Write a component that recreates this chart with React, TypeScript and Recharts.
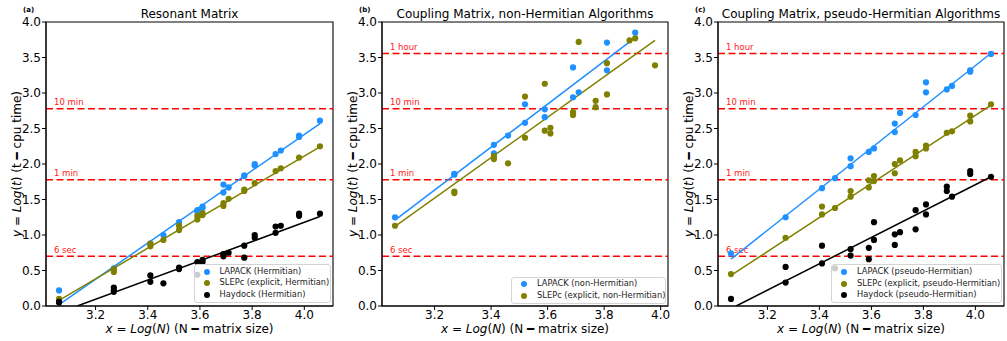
import { ComposedChart, Scatter, Line, XAxis, YAxis, ReferenceLine, ReferenceArea } from "recharts"

type Pt = [number, number]

const FONT = "DejaVu Sans, sans-serif"
const BLUE = "#1e90ff"
const OLIVE = "#808000"
const BLACK = "#000000"

const xTicks = [3.2, 3.4, 3.6, 3.8, 4.0]
const yTicks = [0, 0.5, 1, 1.5, 2, 2.5, 3, 3.5, 4]

const marksShort = [
  { label: "6 sec", y: 0.699 },
  { label: "1 min", y: 1.778 },
  { label: "10 min", y: 2.778 },
]
const marksLong = [...marksShort, { label: "1 hour", y: 3.556 }]

// (a) resonant matrix
const aLapack: Pt[] = [
  [3.06, 0.22], [3.27, 0.53], [3.41, 0.88], [3.46, 1.0], [3.52, 1.18], [3.59, 1.33], [3.59, 1.35],
  [3.61, 1.38], [3.61, 1.4], [3.69, 1.71], [3.69, 1.6], [3.71, 1.67], [3.77, 1.83], [3.77, 1.84],
  [3.81, 2.0], [3.81, 1.98], [3.89, 2.14], [3.91, 2.19], [3.98, 2.4], [3.98, 2.38], [4.06, 2.61],
]
const aSlepc: Pt[] = [
  [3.06, 0.1], [3.27, 0.52], [3.27, 0.48], [3.41, 0.88], [3.41, 0.84], [3.46, 0.93], [3.52, 1.13],
  [3.52, 1.07], [3.59, 1.27], [3.59, 1.22], [3.61, 1.31], [3.61, 1.28], [3.69, 1.45], [3.69, 1.41],
  [3.71, 1.51], [3.77, 1.64], [3.77, 1.62], [3.81, 1.73], [3.89, 1.9], [3.91, 1.94], [3.98, 2.09],
  [4.06, 2.25],
]
const aHaydock: Pt[] = [
  [3.06, 0.06], [3.06, 0.05], [3.27, 0.26], [3.27, 0.22], [3.27, 0.2], [3.41, 0.43], [3.41, 0.34],
  [3.46, 0.32], [3.52, 0.54], [3.52, 0.52], [3.59, 0.62], [3.59, 0.44], [3.61, 0.65], [3.61, 0.62],
  [3.69, 0.73], [3.69, 0.7], [3.71, 0.75], [3.77, 0.85], [3.77, 0.68], [3.81, 1.0], [3.81, 0.96],
  [3.89, 1.12], [3.89, 1.03], [3.91, 1.13], [3.98, 1.3], [3.98, 1.27], [4.06, 1.3],
]
const aLapackFit: Pt[] = [[3.06, 0.02], [4.06, 2.57]]
const aSlepcFit: Pt[] = [[3.06, 0.08], [4.06, 2.24]]
const aHaydockFit: Pt[] = [[3.13, 0], [4.06, 1.26]]

// (b) coupling matrix, non-Hermitian
const bLapack: Pt[] = [
  [3.06, 1.25], [3.27, 1.86], [3.27, 1.85], [3.41, 2.27], [3.41, 2.15], [3.46, 2.4], [3.52, 2.84],
  [3.52, 2.58], [3.59, 2.77], [3.59, 2.66], [3.69, 3.36], [3.69, 2.94], [3.71, 3.01], [3.81, 3.71],
  [3.81, 3.32], [3.91, 3.85],
]
const bSlepc: Pt[] = [
  [3.06, 1.13], [3.27, 1.61], [3.27, 1.59], [3.41, 2.11], [3.41, 2.07], [3.46, 2.01], [3.52, 2.95],
  [3.52, 2.37], [3.59, 3.13], [3.59, 2.47], [3.61, 2.51], [3.61, 2.43], [3.69, 2.73], [3.69, 2.69],
  [3.71, 3.72], [3.77, 2.89], [3.77, 2.8], [3.81, 3.42], [3.81, 2.98], [3.89, 3.74], [3.91, 3.77],
  [3.98, 3.39],
]
const bLapackFit: Pt[] = [[3.06, 1.21], [3.91, 3.78]]
const bSlepcFit: Pt[] = [[3.06, 1.12], [3.98, 3.74]]

// (c) coupling matrix, pseudo-Hermitian
const cLapack: Pt[] = [
  [3.06, 0.74], [3.27, 1.25], [3.41, 1.66], [3.46, 1.8], [3.52, 2.08], [3.52, 1.97], [3.59, 2.17],
  [3.61, 2.22], [3.69, 2.57], [3.69, 2.45], [3.71, 2.72], [3.77, 2.69], [3.81, 3.15], [3.81, 3.01],
  [3.89, 3.05], [3.91, 3.1], [3.98, 3.32], [3.98, 3.3], [4.06, 3.55],
]
const cSlepc: Pt[] = [
  [3.06, 0.45], [3.27, 0.96], [3.41, 1.4], [3.41, 1.29], [3.46, 1.38], [3.52, 1.62], [3.52, 1.54],
  [3.59, 1.77], [3.59, 1.67], [3.61, 1.83], [3.61, 1.76], [3.69, 2.0], [3.69, 1.87], [3.71, 2.05],
  [3.77, 2.17], [3.77, 2.11], [3.81, 2.26], [3.81, 2.22], [3.89, 2.44], [3.91, 2.46], [3.98, 2.68],
  [3.98, 2.6], [4.06, 2.84],
]
const cHaydock: Pt[] = [
  [3.06, 0.1], [3.27, 0.55], [3.27, 0.33], [3.41, 0.85], [3.41, 0.6], [3.46, 0.53], [3.52, 0.8],
  [3.52, 0.71], [3.59, 0.82], [3.59, 0.66], [3.61, 1.18], [3.61, 0.93], [3.69, 1.01], [3.69, 0.86],
  [3.71, 1.04], [3.77, 1.35], [3.77, 1.08], [3.81, 1.43], [3.81, 1.29], [3.89, 1.68], [3.89, 1.62],
  [3.91, 1.54], [3.98, 1.9], [3.98, 1.86], [4.06, 1.82],
]
const cLapackFit: Pt[] = [[3.06, 0.66], [4.06, 3.56]]
const cSlepcFit: Pt[] = [[3.06, 0.43], [4.06, 2.83]]
const cHaydockFit: Pt[] = [[3.08, 0], [4.06, 1.82]]

type Series = { name: string; color: string; pts: Pt[]; fit: Pt[] }

const toRows = (p: Pt[]) => p.map(([x, y]) => ({ x, y }))

function LineTag(props: any) {
  const vb = props.viewBox
  if (!vb) return null
  return (
    <text x={vb.x + 8} y={vb.y - 3.5} fill="#ff2020" fontSize={8.5} fontFamily={FONT}>
      {props.text}
    </text>
  )
}

type PanelProps = {
  left: number
  width: number
  plotLeft: number
  plotRight: number
  xDomain: [number, number]
  title: string
  tag: string
  series: Series[]
  marks: { label: string; y: number }[]
  legend: { left: number; top: number; width: number }
}

function Panel(p: PanelProps) {
  const cx = (p.plotLeft + p.plotRight) / 2
  const ly = 164
  const lx = p.plotLeft - 29
  return (
    <div style={{ position: "absolute", left: p.left, top: 0, width: p.width, height: 341 }}>
      <ComposedChart
        width={p.width}
        height={341}
        margin={{ top: 22, right: p.width - p.plotRight, bottom: 0, left: 0 }}
      >
        <XAxis
          type="number"
          dataKey="x"
          domain={p.xDomain}
          ticks={xTicks}
          allowDataOverflow
          height={35}
          tickSize={4}
          tickMargin={0}
          tickFormatter={(v: number) => v.toFixed(1)}
          tick={{ fill: "#000", fontSize: 12, fontFamily: FONT }}
          stroke="#000"
        />
        <YAxis
          type="number"
          domain={[0, 4]}
          ticks={yTicks}
          allowDataOverflow
          width={p.plotLeft}
          tickSize={4}
          tickMargin={1}
          tickFormatter={(v: number) => v.toFixed(1)}
          tick={{ fill: "#000", fontSize: 12, fontFamily: FONT }}
          stroke="#000"
        />
        {p.marks.map((m) => (
          <ReferenceLine
            key={m.label}
            y={m.y}
            stroke="#ff0000"
            strokeWidth={1.5}
            strokeDasharray="7 3.5"
            label={<LineTag text={m.label} />}
          />
        ))}
        {p.series.map((s) => (
          <Scatter
            key={s.name}
            name={s.name}
            data={toRows(s.pts)}
            dataKey="y"
            fill={s.color}
            isAnimationActive={false}
            shape={(sp: any) => <circle cx={sp.cx} cy={sp.cy} r={3.1} fill={s.color} />}
          />
        ))}
        {p.series.map((s) => (
          <Line
            key={s.name + "-fit"}
            data={toRows(s.fit)}
            dataKey="y"
            type="linear"
            stroke={s.color}
            strokeWidth={1.5}
            dot={false}
            activeDot={false}
            isAnimationActive={false}
          />
        ))}
        <ReferenceArea
          x1={p.xDomain[0]}
          x2={p.xDomain[1]}
          y1={0}
          y2={4}
          fill="none"
          fillOpacity={0}
          stroke="#000"
          strokeWidth={1.1}
        />
      </ComposedChart>
      <svg
        width={p.width}
        height={341}
        style={{ position: "absolute", left: 0, top: 0, pointerEvents: "none" }}
        fontFamily={FONT}
      >
        <text x={cx} y={18} textAnchor="middle" fontSize={12} fill="#000">
          {p.title}
        </text>
        <text x={p.plotLeft - 23} y={12} fontSize={7} fontWeight="bold" fill="#000">
          {p.tag}
        </text>
        <text x={cx} y={332.5} textAnchor="middle" fontSize={12} fill="#000">
          <tspan fontStyle="italic">x</tspan>
          {" = "}
          <tspan fontStyle="italic">Log</tspan>(<tspan fontStyle="italic">N</tspan>) (N ━ matrix size)
        </text>
        <text
          x={lx}
          y={ly}
          textAnchor="middle"
          dominantBaseline="central"
          fontSize={12}
          fill="#000"
          transform={`rotate(-90 ${lx} ${ly})`}
        >
          <tspan fontStyle="italic">y</tspan>
          {" = "}
          <tspan fontStyle="italic">Log</tspan>(<tspan fontStyle="italic">t</tspan>) (t ━ cpu time)
        </text>
      </svg>
      <div
        style={{
          position: "absolute",
          left: p.legend.left,
          top: p.legend.top,
          width: p.legend.width,
          border: "1px solid #d4d4d4",
          borderRadius: 3,
          background: "rgba(255,255,255,0.8)",
          fontFamily: FONT,
          fontSize: 8.3,
          color: "#222",
          boxSizing: "border-box",
          padding: "0.5px 0 1px 0",
        }}
      >
        {p.series.map((s) => (
          <div key={s.name} style={{ position: "relative", height: 11.8, lineHeight: "11.8px" }}>
            <span
              style={{
                position: "absolute",
                left: 9,
                top: 3,
                width: 6,
                height: 6,
                borderRadius: 3,
                background: s.color,
              }}
            />
            <span style={{ position: "absolute", left: 25, top: 0, whiteSpace: "nowrap" }}>{s.name}</span>
          </div>
        ))}
      </div>
    </div>
  )
}

export default function App() {
  return (
    <div style={{ position: "absolute", left: 0, top: 0, width: 1007, height: 341, background: "#fff" }}>
      <Panel
        left={0}
        width={340}
        plotLeft={46}
        plotRight={333}
        xDomain={[3.01, 4.11]}
        title="Resonant Matrix"
        tag="(a)"
        marks={marksShort}
        legend={{ left: 193.5, top: 264, width: 137 }}
        series={[
          { name: "LAPACK (Hermitian)", color: BLUE, pts: aLapack, fit: aLapackFit },
          { name: "SLEPc (explicit, Hermitian)", color: OLIVE, pts: aSlepc, fit: aSlepcFit },
          { name: "Haydock (Hermitian)", color: BLACK, pts: aHaydock, fit: aHaydockFit },
        ]}
      />
      <Panel
        left={340}
        width={334}
        plotLeft={42}
        plotRight={328}
        xDomain={[3.014, 4.026]}
        title="Coupling Matrix, non-Hermitian Algorithms"
        tag="(b)"
        marks={marksLong}
        legend={{ left: 171, top: 276.5, width: 155 }}
        series={[
          { name: "LAPACK (non-Hermitian)", color: BLUE, pts: bLapack, fit: bLapackFit },
          { name: "SLEPc (explicit, non-Hermitian)", color: OLIVE, pts: bSlepc, fit: bSlepcFit },
        ]}
      />
      <Panel
        left={674}
        width={333}
        plotLeft={44}
        plotRight={330}
        xDomain={[3.01, 4.11]}
        title="Coupling Matrix, pseudo-Hermitian Algorithms"
        tag="(c)"
        marks={marksLong}
        legend={{ left: 157, top: 264.3, width: 171 }}
        series={[
          { name: "LAPACK (pseudo-Hermitian)", color: BLUE, pts: cLapack, fit: cLapackFit },
          { name: "SLEPc (explicit, pseudo-Hermitian)", color: OLIVE, pts: cSlepc, fit: cSlepcFit },
          { name: "Haydock (pseudo-Hermitian)", color: BLACK, pts: cHaydock, fit: cHaydockFit },
        ]}
      />
    </div>
  )
}
